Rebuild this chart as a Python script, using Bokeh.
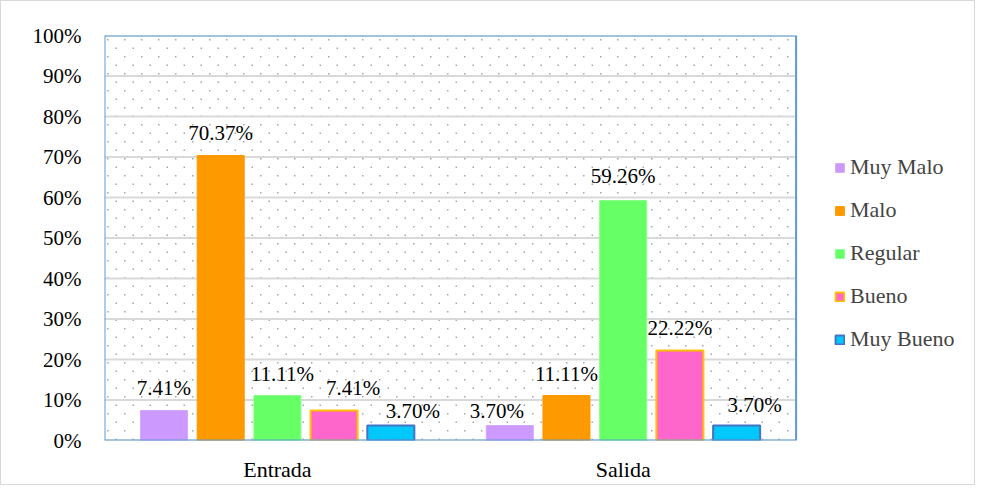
import base64
from bokeh.plotting import figure
from bokeh.core.properties import value
from bokeh.models import (ColumnDataSource, Range1d, FixedTicker, NumeralTickFormatter,
                          Legend, LegendItem, BoxAnnotation, LabelSet, ImageURLTexture)
from bokeh.embed import file_html
from bokeh.resources import INLINE

# ---- data ----
groups = ["Entrada", "Salida"]
series = ["Muy Malo", "Malo", "Regular", "Bueno", "Muy Bueno"]
muy_malo = [0.0741, 0.0370]
malo = [0.7037, 0.1111]
regular = [0.1111, 0.5926]
bueno = [0.0741, 0.2222]
muy_bueno = [0.0370, 0.0370]
y_ticks = [0, 0.1, 0.2, 0.3, 0.4, 0.5, 0.6, 0.7, 0.8, 0.9, 1.0]

# ---- styles / layout ----
fills = ["#cc99ff", "#ff9900", "#66ff66", "#ff66cc", "#00c8fa"]
lines = ["#d2a8ff", "#ff9900", "#88ff88", "#ffc000", "#4472c4"]
line_widths = [1, 1, 1, 2, 2]
offsets = [-0.328, -0.164, 0.0, 0.164, 0.328]
bar_w = 0.136
label_dx = [[0, -13], [0, 0], [5, 0], [19, 0], [22, 18]]
label_dy = [[22, 15], [23, 22], [22, 24], [22, 23], [15, 21]]
FONT = "Liberation Serif"

W, H = 975, 485
ML, MR, MT, MB = 103, 0, 34, 46
frame_w = W - 2 - ML - MR
chart_w = 690  # pixel width of the plotted area (two categories)
n = len(groups)
x_end = n * frame_w / chart_w

values = [muy_malo, malo, regular, bueno, muy_bueno]
centers = [i + 0.5 for i in range(n)]

p = figure(x_range=Range1d(0, x_end), y_range=Range1d(0, 1),
           width=W, height=H, output_backend="svg", toolbar_location=None,
           min_border_left=ML, min_border_right=MR, min_border_top=MT, min_border_bottom=MB)

p.background_fill_color = "white"
p.border_fill_color = "white"
p.outline_line_color = None
p.styles = {"border": "1px solid #d9d9d9"}
p.xgrid.grid_line_color = None
p.ygrid.grid_line_color = None

# dotted background texture (staggered tiny dots) over the chart area
tile = ('<svg xmlns="http://www.w3.org/2000/svg" width="17" height="17">'
        '<rect x="4" y="4" width="1.5" height="1.5" fill="#a6a6a6"/>'
        '<rect x="12.5" y="12.5" width="1.5" height="1.5" fill="#a6a6a6"/></svg>')
url = "data:image/svg+xml;base64," + base64.b64encode(tile.encode()).decode()
bg = BoxAnnotation(left=0, right=n, bottom=0, top=1, fill_alpha=0, line_alpha=0,
                   hatch_pattern="dots",
                   hatch_extra={"dots": ImageURLTexture(url=url, repetition="repeat")},
                   hatch_alpha=1.0, level="image")
p.add_layout(bg)

# horizontal gridlines limited to chart area
p.segment(x0=[0] * len(y_ticks), x1=[n] * len(y_ticks), y0=y_ticks, y1=y_ticks,
          line_color="#d9d9d9", line_width=2, level="underlay")

p.yaxis.ticker = FixedTicker(ticks=y_ticks)
p.yaxis.formatter = NumeralTickFormatter(format="0%")
p.xaxis.ticker = FixedTicker(ticks=centers)
p.xaxis.major_label_overrides = {c: g for c, g in zip(centers, groups)}
for ax in (p.xaxis, p.yaxis):
    ax.axis_line_color = None
    ax.major_tick_line_color = None
    ax.minor_tick_line_color = None
    ax.major_label_text_font = FONT
    ax.major_label_text_color = "#000000"
p.yaxis.major_label_text_font_size = "21px"
p.yaxis.major_label_standoff = 17
p.xaxis.major_label_text_font_size = "22px"
p.xaxis.major_label_standoff = 10

items = []
for i, name in enumerate(series):
    xs = [c + offsets[i] for c in centers]
    src = ColumnDataSource(dict(x=xs, v=values[i],
                                lbl=[f"{v*100:.2f}%" for v in values[i]],
                                dx=label_dx[i], dy=label_dy[i]))
    r = p.vbar(x="x", top="v", width=bar_w, source=src,
               fill_color=fills[i], line_color=lines[i], line_width=line_widths[i])
    items.append(LegendItem(label=name, renderers=[r]))
    labels = LabelSet(x="x", y="v", text="lbl", x_offset="dx", y_offset="dy", source=src,
                      text_font=value(FONT), text_font_size=value("21px"), text_color="#000000",
                      text_align="center", text_baseline="middle")
    p.add_layout(labels)

# chart-area border
outline = BoxAnnotation(left=0, right=n, bottom=0, top=1, fill_alpha=0,
                        line_color="#5b9bd5", line_alpha=1.0, line_width=2, level="overlay")
p.add_layout(outline)

legend = Legend(items=items, location=(730, 88), padding=0, margin=0,
                border_line_color=None, background_fill_alpha=0,
                label_text_font=FONT, label_text_font_size="22px",
                glyph_width=11, glyph_height=11, label_standoff=5,
                label_height=26, spacing=17)
p.add_layout(legend, "center")

open("out.html", "w").write(file_html(p, INLINE))
